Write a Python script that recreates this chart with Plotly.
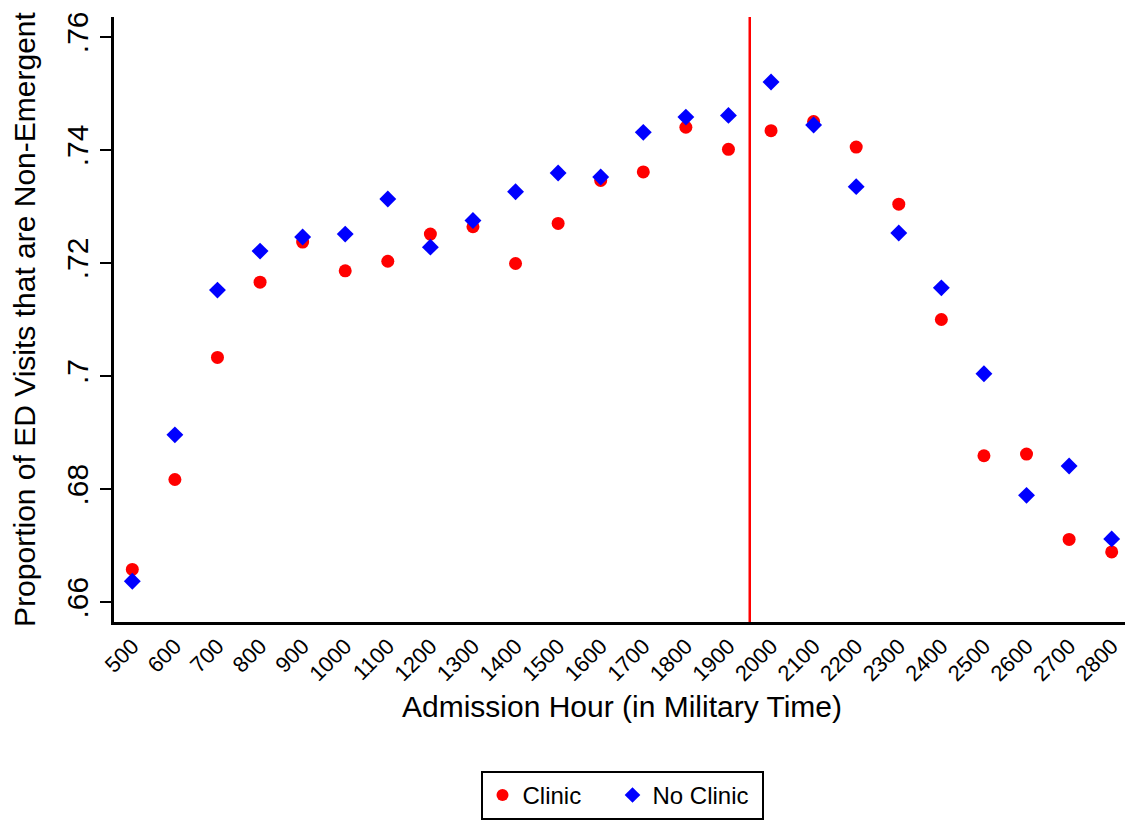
import plotly.graph_objects as go

hours = [500, 600, 700, 800, 900, 1000, 1100, 1200, 1300, 1400, 1500, 1600,
         1700, 1800, 1900, 2000, 2100, 2200, 2300, 2400, 2500, 2600, 2700, 2800]
hour_labels = [str(h) for h in hours]

clinic = [0.6658, 0.6817, 0.7033, 0.7166, 0.7237, 0.7186, 0.7203, 0.7251,
          0.7264, 0.7199, 0.7270, 0.7346, 0.7361, 0.7440, 0.7401, 0.7434,
          0.7450, 0.7405, 0.7304, 0.7100, 0.6859, 0.6862, 0.6711, 0.6689]

no_clinic = [0.6637, 0.6896, 0.7152, 0.7221, 0.7246, 0.7251, 0.7313, 0.7228,
             0.7275, 0.7326, 0.7359, 0.7352, 0.7431, 0.7458, 0.7461, 0.7520,
             0.7444, 0.7335, 0.7253, 0.7156, 0.7004, 0.6789, 0.6841, 0.6712]

cutoff_hour = 1950
y_ticks = [0.66, 0.68, 0.70, 0.72, 0.74, 0.76]
y_tick_labels = [".66", ".68", ".7", ".72", ".74", ".76"]

FONT = "Liberation Sans, Arial, sans-serif"

fig = go.Figure()
fig.add_trace(go.Scatter(
    x=hours, y=clinic, mode="markers", name="Clinic", legendwidth=85,
    marker=dict(symbol="circle", size=13, color="#ff0000", line=dict(width=0)),
))
fig.add_trace(go.Scatter(
    x=hours, y=no_clinic, mode="markers", name="No Clinic", legendwidth=104,
    marker=dict(symbol="diamond", size=13, color="#0000ff", line=dict(width=0)),
))

fig.add_shape(type="line", xref="x", yref="paper", x0=cutoff_hour, x1=cutoff_hour,
              y0=0, y1=1, line=dict(color="#ff0000", width=2.5), layer="below")

fig.update_layout(
    width=1125, height=815,
    margin=dict(l=106, r=3, t=9, b=201),
    paper_bgcolor="white", plot_bgcolor="white",
    font=dict(family=FONT, color="black", size=22),
    showlegend=True,
    legend=dict(
        orientation="h", x=0.5, xanchor="center", y=-0.246, yanchor="top",
        bordercolor="black", borderwidth=2, font=dict(size=24),
        itemsizing="constant", traceorder="normal",
    ),
    xaxis=dict(
        range=[457, 2843],
        tickmode="array", tickvals=hours, ticktext=hour_labels,
        tickangle=-45, tickfont=dict(size=22),
        showline=True, linecolor="black", linewidth=2.5, mirror=False,
        showgrid=False, zeroline=False, ticks="",
        title=dict(text="Admission Hour (in Military Time)", font=dict(size=30), standoff=11),
    ),
    yaxis=dict(
        range=[0.6565, 0.7635],
        tickmode="array", tickvals=y_ticks, ticktext=y_tick_labels,
        tickangle=-90, tickfont=dict(size=30),
        showline=True, linecolor="black", linewidth=2.5, mirror=False,
        showgrid=False, zeroline=False,
        ticks="outside", ticklen=11, tickwidth=2, tickcolor="black",
        title=dict(text="Proportion of ED Visits that are Non-Emergent", font=dict(size=30), standoff=25),
    ),
)

fig.write_html("out.html")
